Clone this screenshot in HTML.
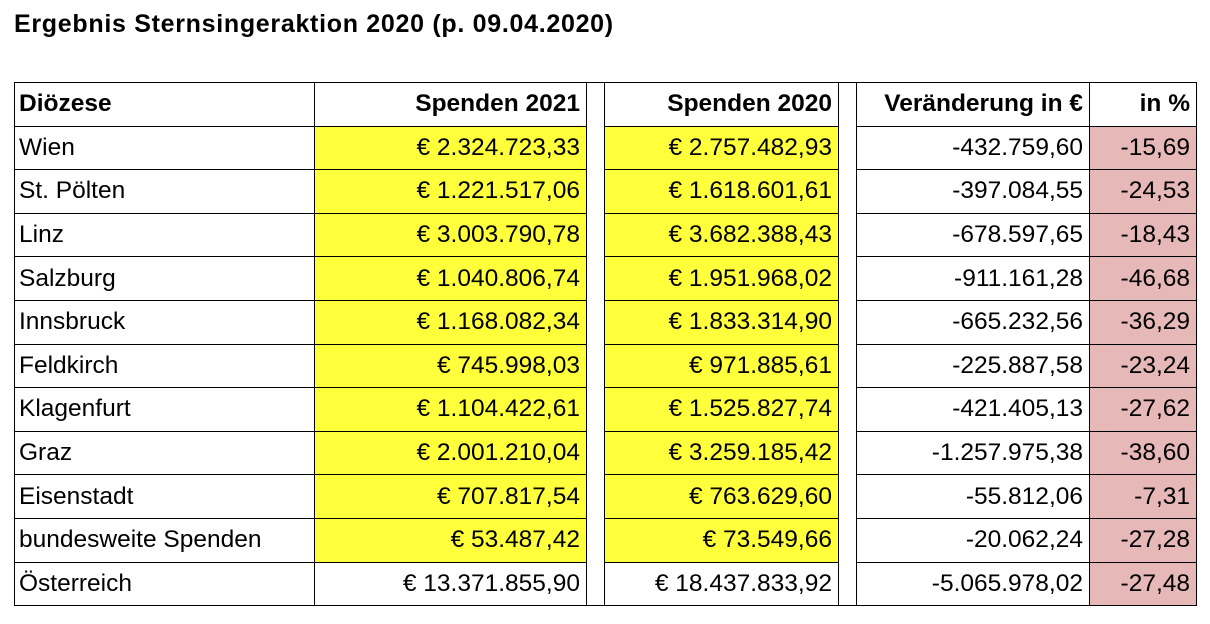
<!DOCTYPE html>
<html><head><meta charset="utf-8"><style>
body{margin:0;width:1210px;height:624px;background:#fff;font-family:"Liberation Sans",sans-serif;color:#000;overflow:hidden;position:relative}
.t{position:absolute;left:14px;top:10px;font-weight:bold;font-size:25px;letter-spacing:0.7px}
table{position:absolute;left:14px;top:82px;border-collapse:collapse;table-layout:fixed;font-size:24.5px}
td{border:1.5px solid #000;height:42.6px;padding:0 6px;white-space:nowrap;text-align:right;overflow:hidden}
td:first-child{text-align:left;padding-left:4px}
td.g{border-top:none;border-bottom:none;padding:0}
tr:first-child td.g{border-top:1.5px solid #000}
tr:last-child td.g{border-bottom:1.5px solid #000}
.h td{font-weight:bold}
.y{background:#ffff3b}
.p{background:#e6b8b7}
</style></head><body>
<div class="t">Ergebnis Sternsingeraktion 2020 (p. 09.04.2020)</div>
<table>
<colgroup><col style="width:300px"><col style="width:272px"><col style="width:18px"><col style="width:234px"><col style="width:18px"><col style="width:233px"><col style="width:107px"></colgroup>
<tr class="h"><td>Diözese</td><td>Spenden 2021</td><td class="g"></td><td>Spenden 2020</td><td class="g"></td><td>Veränderung in €</td><td>in %</td></tr>
<tr><td>Wien</td><td class="y">€ 2.324.723,33</td><td class="g"></td><td class="y">€ 2.757.482,93</td><td class="g"></td><td>-432.759,60</td><td class="p">-15,69</td></tr>
<tr><td>St. Pölten</td><td class="y">€ 1.221.517,06</td><td class="g"></td><td class="y">€ 1.618.601,61</td><td class="g"></td><td>-397.084,55</td><td class="p">-24,53</td></tr>
<tr><td>Linz</td><td class="y">€ 3.003.790,78</td><td class="g"></td><td class="y">€ 3.682.388,43</td><td class="g"></td><td>-678.597,65</td><td class="p">-18,43</td></tr>
<tr><td>Salzburg</td><td class="y">€ 1.040.806,74</td><td class="g"></td><td class="y">€ 1.951.968,02</td><td class="g"></td><td>-911.161,28</td><td class="p">-46,68</td></tr>
<tr><td>Innsbruck</td><td class="y">€ 1.168.082,34</td><td class="g"></td><td class="y">€ 1.833.314,90</td><td class="g"></td><td>-665.232,56</td><td class="p">-36,29</td></tr>
<tr><td>Feldkirch</td><td class="y">€ 745.998,03</td><td class="g"></td><td class="y">€ 971.885,61</td><td class="g"></td><td>-225.887,58</td><td class="p">-23,24</td></tr>
<tr><td>Klagenfurt</td><td class="y">€ 1.104.422,61</td><td class="g"></td><td class="y">€ 1.525.827,74</td><td class="g"></td><td>-421.405,13</td><td class="p">-27,62</td></tr>
<tr><td>Graz</td><td class="y">€ 2.001.210,04</td><td class="g"></td><td class="y">€ 3.259.185,42</td><td class="g"></td><td>-1.257.975,38</td><td class="p">-38,60</td></tr>
<tr><td>Eisenstadt</td><td class="y">€ 707.817,54</td><td class="g"></td><td class="y">€ 763.629,60</td><td class="g"></td><td>-55.812,06</td><td class="p">-7,31</td></tr>
<tr><td>bundesweite Spenden</td><td class="y">€ 53.487,42</td><td class="g"></td><td class="y">€ 73.549,66</td><td class="g"></td><td>-20.062,24</td><td class="p">-27,28</td></tr>
<tr><td>Österreich</td><td>€ 13.371.855,90</td><td class="g"></td><td>€ 18.437.833,92</td><td class="g"></td><td>-5.065.978,02</td><td class="p">-27,48</td></tr>
</table>
</body></html>
